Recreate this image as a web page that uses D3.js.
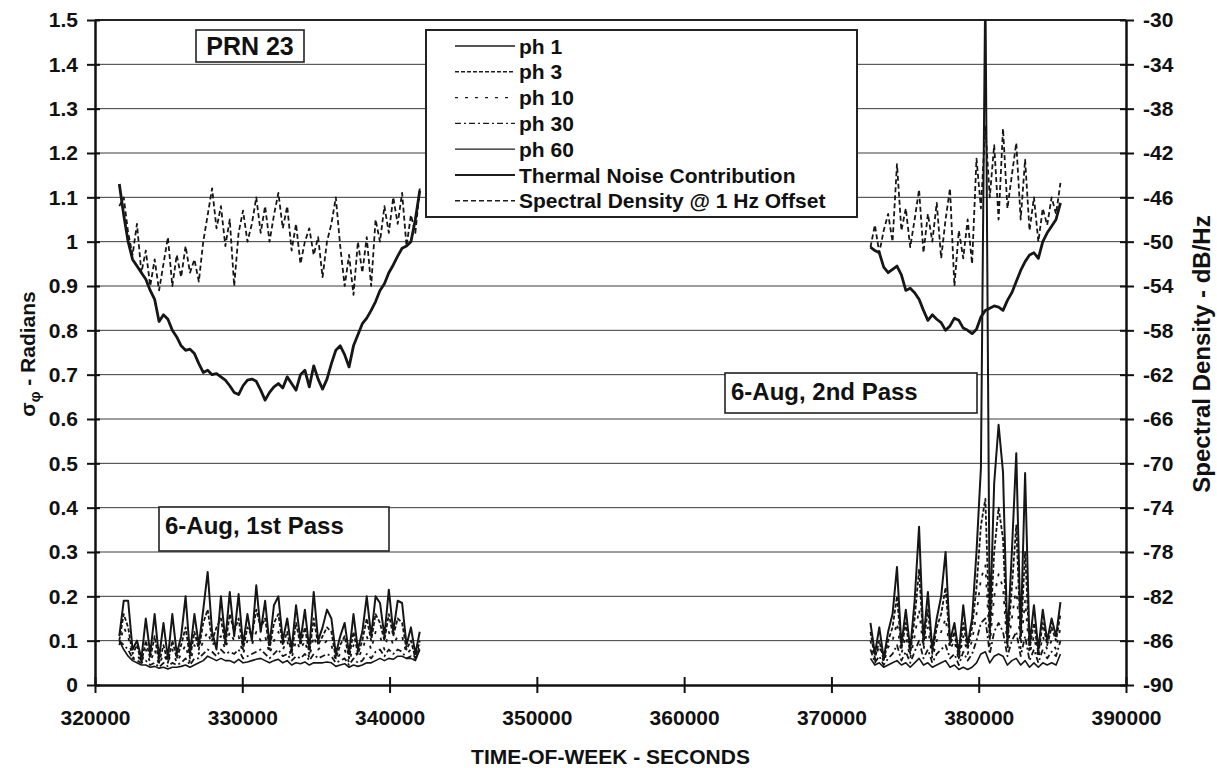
<!DOCTYPE html>
<html>
<head>
<meta charset="utf-8">
<script src="https://cdn.jsdelivr.net/npm/d3@7"></script>
<style>
  body { margin: 0; background: #fff; }
  svg { display: block; font-family: "Liberation Sans", Arial, sans-serif; font-weight: bold; }
</style>
</head>
<body>
<svg id="chart"></svg>
<script>
/// data ///
const seriesNames = ["ph 1", "ph 3", "ph 10", "ph 30", "ph 60",
  "Thermal Noise Contribution", "Spectral Density @ 1 Hz Offset"];

// sampling of the two passes (time-of-week, seconds)
const pass1Start = 321650;
const pass2Start = 372650;
const sampleStep = 300;

// sigma phi, radians (left axis) - 1st pass
const ph1Pass1 = [0.11, 0.19, 0.19, 0.08, 0.10, 0.06, 0.15, 0.07, 0.16, 0.06,
  0.14, 0.06, 0.16, 0.07, 0.11, 0.20, 0.07, 0.16, 0.09, 0.17,
  0.255, 0.12, 0.08, 0.20, 0.10, 0.21, 0.11, 0.205, 0.09, 0.16,
  0.10, 0.225, 0.12, 0.19, 0.09, 0.18, 0.20, 0.10, 0.15, 0.08,
  0.18, 0.10, 0.17, 0.08, 0.21, 0.10, 0.13, 0.17, 0.15, 0.07,
  0.11, 0.14, 0.07, 0.16, 0.08, 0.12, 0.20, 0.11, 0.20, 0.185,
  0.11, 0.215, 0.12, 0.19, 0.185, 0.09, 0.13, 0.07, 0.12];
const ph3Pass1 = [0.10, 0.16, 0.13, 0.07, 0.09, 0.05, 0.10, 0.06, 0.11, 0.05,
  0.09, 0.05, 0.10, 0.06, 0.09, 0.13, 0.06, 0.12, 0.08, 0.14,
  0.17, 0.10, 0.13, 0.15, 0.09, 0.16, 0.12, 0.15, 0.08, 0.13,
  0.11, 0.17, 0.13, 0.15, 0.08, 0.14, 0.16, 0.09, 0.12, 0.07,
  0.14, 0.09, 0.13, 0.07, 0.15, 0.09, 0.11, 0.13, 0.12, 0.06,
  0.09, 0.11, 0.06, 0.12, 0.07, 0.10, 0.15, 0.10, 0.16, 0.14,
  0.10, 0.16, 0.11, 0.15, 0.14, 0.08, 0.10, 0.06, 0.10];
const ph10Pass1 = [0.09, 0.13, 0.11, 0.06, 0.07, 0.05, 0.08, 0.05, 0.08, 0.045,
  0.07, 0.05, 0.08, 0.05, 0.07, 0.09, 0.05, 0.09, 0.07, 0.10,
  0.12, 0.09, 0.10, 0.11, 0.08, 0.12, 0.10, 0.11, 0.07, 0.10,
  0.09, 0.12, 0.10, 0.11, 0.07, 0.10, 0.12, 0.08, 0.10, 0.06,
  0.10, 0.08, 0.10, 0.06, 0.11, 0.08, 0.09, 0.10, 0.09, 0.055,
  0.07, 0.08, 0.05, 0.09, 0.06, 0.08, 0.11, 0.08, 0.12, 0.11,
  0.08, 0.12, 0.09, 0.11, 0.11, 0.07, 0.08, 0.06, 0.08];
const ph30Pass1 = [0.10, 0.09, 0.08, 0.06, 0.055, 0.05, 0.055, 0.045, 0.05, 0.04,
  0.05, 0.042, 0.05, 0.045, 0.05, 0.06, 0.045, 0.06, 0.06, 0.07,
  0.08, 0.075, 0.065, 0.08, 0.07, 0.075, 0.07, 0.08, 0.06, 0.065,
  0.07, 0.075, 0.08, 0.07, 0.06, 0.07, 0.08, 0.065, 0.07, 0.055,
  0.065, 0.06, 0.07, 0.055, 0.07, 0.06, 0.065, 0.07, 0.065, 0.05,
  0.055, 0.06, 0.045, 0.06, 0.05, 0.055, 0.07, 0.06, 0.075, 0.08,
  0.065, 0.08, 0.07, 0.08, 0.075, 0.06, 0.065, 0.055, 0.09];
const ph60Pass1 = [0.10, 0.08, 0.065, 0.055, 0.05, 0.045, 0.045, 0.04, 0.042, 0.038,
  0.04, 0.036, 0.04, 0.04, 0.042, 0.045, 0.04, 0.045, 0.05, 0.055,
  0.065, 0.06, 0.055, 0.06, 0.055, 0.055, 0.05, 0.058, 0.05, 0.052,
  0.055, 0.058, 0.06, 0.055, 0.05, 0.055, 0.058, 0.05, 0.055, 0.045,
  0.05, 0.048, 0.052, 0.045, 0.05, 0.05, 0.05, 0.052, 0.05, 0.042,
  0.045, 0.048, 0.04, 0.045, 0.042, 0.045, 0.05, 0.05, 0.055, 0.06,
  0.055, 0.06, 0.058, 0.065, 0.065, 0.06, 0.06, 0.055, 0.08];
// dB/Hz (right axis) - 1st pass
const thermalPass1 = [-44.8, -47.6, -50.0, -51.6, -52.2, -52.8, -53.4, -54.4, -55.2, -57.2,
  -56.6, -57.0, -58.0, -58.6, -59.4, -59.8, -59.7, -60.1, -61.0, -61.8,
  -61.6, -62.0, -61.9, -62.2, -62.5, -63.0, -63.6, -63.8, -63.0, -62.5,
  -62.4, -62.6, -63.4, -64.3, -63.6, -63.1, -62.8, -63.2, -62.2, -62.8,
  -63.4, -62.0, -61.6, -63.1, -61.2, -62.4, -63.3, -62.4, -61.0, -59.8,
  -59.4, -60.2, -61.3, -59.4, -58.4, -57.4, -56.9, -56.2, -55.4, -54.4,
  -53.8, -52.8, -52.1, -51.3, -50.6, -50.4, -50.0, -48.0, -45.4];
const spectralPass1 = [-46.8, -46.0, -49.2, -51.2, -48.4, -52.8, -50.8, -54.0, -51.6, -54.4,
  -52.0, -49.6, -54.0, -51.2, -53.2, -50.4, -52.8, -51.6, -53.6, -50.0,
  -47.6, -45.2, -48.8, -46.8, -50.4, -48.0, -54.0, -49.2, -47.2, -50.0,
  -48.4, -46.0, -49.2, -46.8, -50.0, -47.6, -45.6, -48.8, -46.8, -50.8,
  -48.4, -52.0, -50.0, -48.8, -51.2, -49.6, -53.2, -50.0, -48.4, -46.0,
  -50.4, -54.0, -51.2, -54.8, -50.0, -52.8, -49.6, -54.0, -48.0, -50.0,
  -46.8, -49.2, -46.0, -48.4, -45.6, -50.4, -47.6, -49.2, -45.2];

// sigma phi, radians (left axis) - 2nd pass
const ph1Pass2 = [0.14, 0.07, 0.13, 0.06, 0.12, 0.16, 0.266, 0.09, 0.17, 0.08,
  0.19, 0.357, 0.10, 0.21, 0.08, 0.15, 0.20, 0.30, 0.10, 0.14,
  0.07, 0.18, 0.09, 0.15, 0.30, 0.49, 1.60, 0.12, 0.455, 0.587,
  0.48, 0.10, 0.30, 0.523, 0.11, 0.478, 0.09, 0.18, 0.08, 0.17,
  0.10, 0.15, 0.11, 0.187];
const ph3Pass2 = [0.12, 0.06, 0.10, 0.055, 0.10, 0.13, 0.20, 0.08, 0.14, 0.07,
  0.15, 0.26, 0.09, 0.17, 0.07, 0.13, 0.16, 0.22, 0.09, 0.12,
  0.06, 0.14, 0.08, 0.13, 0.22, 0.36, 0.42, 0.10, 0.30, 0.40,
  0.33, 0.09, 0.22, 0.36, 0.10, 0.30, 0.08, 0.14, 0.07, 0.14,
  0.09, 0.13, 0.10, 0.16];
const ph10Pass2 = [0.10, 0.055, 0.09, 0.05, 0.085, 0.10, 0.14, 0.07, 0.11, 0.06,
  0.11, 0.17, 0.08, 0.13, 0.06, 0.10, 0.12, 0.15, 0.08, 0.10,
  0.055, 0.11, 0.07, 0.10, 0.16, 0.24, 0.27, 0.09, 0.20, 0.25,
  0.22, 0.08, 0.15, 0.22, 0.08, 0.19, 0.07, 0.11, 0.06, 0.11,
  0.08, 0.10, 0.08, 0.13];
const ph30Pass2 = [0.08, 0.05, 0.065, 0.045, 0.06, 0.07, 0.09, 0.055, 0.075, 0.05,
  0.075, 0.10, 0.06, 0.08, 0.05, 0.07, 0.08, 0.09, 0.06, 0.07,
  0.045, 0.075, 0.055, 0.07, 0.10, 0.14, 0.15, 0.07, 0.12, 0.14,
  0.12, 0.065, 0.10, 0.12, 0.065, 0.11, 0.055, 0.08, 0.05, 0.08,
  0.06, 0.075, 0.065, 0.10];
const ph60Pass2 = [0.06, 0.045, 0.05, 0.04, 0.045, 0.05, 0.055, 0.045, 0.05, 0.04,
  0.05, 0.06, 0.045, 0.05, 0.04, 0.045, 0.05, 0.055, 0.04, 0.045,
  0.035, 0.04, 0.035, 0.04, 0.05, 0.07, 0.075, 0.05, 0.065, 0.07,
  0.065, 0.045, 0.055, 0.06, 0.045, 0.055, 0.04, 0.05, 0.04, 0.05,
  0.045, 0.05, 0.045, 0.07];
// dB/Hz (right axis) - 2nd pass
const thermalPass2 = [-50.5, -50.8, -51.0, -52.3, -52.8, -52.5, -52.2, -53.0, -54.4, -54.2,
  -54.6, -55.2, -56.2, -57.1, -56.6, -57.0, -57.3, -58.0, -57.6, -56.9,
  -57.1, -57.8, -58.0, -58.3, -57.9, -56.8, -56.2, -56.0, -55.8, -55.9,
  -56.2, -55.3, -54.6, -53.6, -52.6, -51.8, -51.2, -51.0, -51.5, -50.0,
  -49.2, -48.6, -48.0, -46.5];
const spectralPass2 = [-50.5, -48.5, -51.0, -49.0, -47.5, -50.0, -43.0, -49.0, -47.0, -50.5,
  -48.0, -45.3, -51.0, -47.5, -50.0, -46.5, -51.5, -48.0, -45.2, -54.0,
  -49.0, -51.5, -48.0, -52.0, -42.5, -47.0, -39.6, -46.0, -41.3, -48.0,
  -39.8, -47.0, -44.0, -41.1, -48.0, -42.6, -49.0, -46.0, -50.0, -47.0,
  -48.5, -46.0, -47.5, -44.7];

/// tick labels ///
const xTicks = [320000, 330000, 340000, 350000, 360000, 370000, 380000, 390000];
const yTicks = [0, 0.1, 0.2, 0.3, 0.4, 0.5, 0.6, 0.7, 0.8, 0.9, 1, 1.1, 1.2, 1.3, 1.4, 1.5];
const yRightTicks = [-90, -86, -82, -78, -74, -70, -66, -62, -58, -54, -50, -46, -42, -38, -34, -30];

/// series table ///
const series = [
  { name: seriesNames[0], axis: "left", pass1: ph1Pass1, pass2: ph1Pass2 },
  { name: seriesNames[1], axis: "left", pass1: ph3Pass1, pass2: ph3Pass2 },
  { name: seriesNames[2], axis: "left", pass1: ph10Pass1, pass2: ph10Pass2 },
  { name: seriesNames[3], axis: "left", pass1: ph30Pass1, pass2: ph30Pass2 },
  { name: seriesNames[4], axis: "left", pass1: ph60Pass1, pass2: ph60Pass2 },
  { name: seriesNames[5], axis: "right", pass1: thermalPass1, pass2: thermalPass2 },
  { name: seriesNames[6], axis: "right", pass1: spectralPass1, pass2: spectralPass2 }
];

/// line styles ///
const styles = {
  "ph 1": { width: 2, dash: null },
  "ph 3": { width: 1.8, dash: "4,2" },
  "ph 10": { width: 1.8, dash: "3,7" },
  "ph 30": { width: 1.8, dash: "6,3,2,3" },
  "ph 60": { width: 1.6, dash: null },
  "Thermal Noise Contribution": { width: 2.8, dash: null },
  "Spectral Density @ 1 Hz Offset": { width: 1.8, dash: "5,3" }
};

/// dimensions ///
const width = 1217;
const height = 768;
const margin = { top: 20, right: 91, bottom: 83, left: 95 };

/// scales ///
const x = d3.scaleLinear()
  .domain([320000, 390000])
  .range([margin.left, width - margin.right]);
const y = d3.scaleLinear()
  .domain([0, 1.5])
  .range([height - margin.bottom, margin.top]);
const yRight = d3.scaleLinear()
  .domain([-90, -30])
  .range([height - margin.bottom, margin.top]);

const svg = d3.select("#chart")
  .attr("width", width)
  .attr("height", height);

svg.append("defs").append("clipPath")
  .attr("id", "plot-clip")
  .append("rect")
    .attr("x", margin.left)
    .attr("y", margin.top)
    .attr("width", width - margin.left - margin.right)
    .attr("height", height - margin.top - margin.bottom);

/// grid ///
svg.append("g")
  .selectAll("line")
  .data(yTicks.slice(1))
  .join("line")
    .attr("x1", margin.left)
    .attr("x2", width - margin.right)
    .attr("y1", d => y(d))
    .attr("y2", d => y(d))
    .attr("stroke", "#3a3a3a")
    .attr("stroke-width", 1);

// top border
svg.append("line")
  .attr("x1", margin.left)
  .attr("x2", width - margin.right)
  .attr("y1", margin.top)
  .attr("y2", margin.top)
  .attr("stroke", "#222")
  .attr("stroke-width", 2);

/// lines ///
const lineFor = (s, start) => d3.line()
  .x((d, i) => x(start + i * sampleStep))
  .y(d => s.axis === "left" ? y(d) : yRight(d));

const plot = svg.append("g").attr("clip-path", "url(#plot-clip)");
series.slice().reverse().forEach(s => {
  [[s.pass1, pass1Start], [s.pass2, pass2Start]].forEach(([values, start]) => {
    plot.append("path")
      .datum(values)
      .attr("fill", "none")
      .attr("stroke", "#161616")
      .attr("stroke-width", styles[s.name].width)
      .attr("stroke-dasharray", styles[s.name].dash)
      .attr("stroke-linejoin", "round")
      .attr("d", lineFor(s, start));
  });
});

/// axes ///
const styleAxis = g => {
  g.select(".domain").attr("stroke", "#111").attr("stroke-width", 2.5);
  g.selectAll(".tick line").attr("stroke", "#111").attr("stroke-width", 2);
  g.selectAll(".tick text")
    .attr("fill", "#111")
    .attr("font-size", 21)
    .attr("font-weight", "bold")
    .attr("font-family", "'Liberation Sans', Arial, sans-serif");
};

svg.append("g")
  .attr("transform", `translate(0,${height - margin.bottom})`)
  .call(d3.axisBottom(x).tickValues(xTicks).tickFormat(d3.format("d"))
    .tickSizeInner(8).tickSizeOuter(0).tickPadding(17))
  .call(g => g.selectAll(".tick line").attr("y1", -8))
  .call(styleAxis);

svg.append("g")
  .attr("transform", `translate(${margin.left},0)`)
  .call(d3.axisLeft(y).tickValues(yTicks).tickFormat(d => String(d))
    .tickSizeInner(8).tickSizeOuter(0).tickPadding(9))
  .call(g => g.selectAll(".tick line").attr("x1", 5))
  .call(styleAxis);

svg.append("g")
  .attr("transform", `translate(${width - margin.right},0)`)
  .call(d3.axisRight(yRight).tickValues(yRightTicks).tickFormat(d => String(d))
    .tickSizeInner(8).tickSizeOuter(0).tickPadding(9))
  .call(g => g.selectAll(".tick line").attr("x1", -6))
  .call(styleAxis);

/// axis titles ///
svg.append("text")
  .attr("x", (margin.left + width - margin.right) / 2)
  .attr("y", 764)
  .attr("text-anchor", "middle")
  .attr("font-size", 21)
  .attr("fill", "#111")
  .text("TIME-OF-WEEK - SECONDS");

const leftTitle = svg.append("text")
  .attr("transform", "translate(35,354) rotate(-90)")
  .attr("text-anchor", "middle")
  .attr("font-size", 21)
  .attr("fill", "#111");
leftTitle.append("tspan").text("σ");
leftTitle.append("tspan").attr("font-size", 15).attr("dy", 5).text("φ");
leftTitle.append("tspan").attr("dy", -5).text(" - Radians");

svg.append("text")
  .attr("transform", "translate(1210,354) rotate(-90)")
  .attr("text-anchor", "middle")
  .attr("font-size", 24)
  .attr("fill", "#111")
  .text("Spectral Density - dB/Hz");

/// annotation boxes ///
const labelBox = (bx, by, bw, bh, label, tx, ty, size, anchor) => {
  svg.append("rect")
    .attr("x", bx).attr("y", by).attr("width", bw).attr("height", bh)
    .attr("fill", "#fff").attr("stroke", "#222").attr("stroke-width", 1.6);
  svg.append("text")
    .attr("x", tx).attr("y", ty)
    .attr("text-anchor", anchor)
    .attr("font-size", size)
    .attr("fill", "#111")
    .text(label);
};
labelBox(196, 30, 108, 32, "PRN 23", 250, 55, 25, "middle");
labelBox(159, 507, 230, 44, "6-Aug, 1st Pass", 165, 534, 24, "start");
labelBox(725, 373, 252, 40, "6-Aug, 2nd Pass", 731, 400, 24, "start");

/// legend ///
const legend = svg.append("g");
legend.append("rect")
  .attr("x", 426).attr("y", 30).attr("width", 431).attr("height", 187)
  .attr("fill", "#fff").attr("stroke", "#222").attr("stroke-width", 2);

const rowY = i => 46 + i * 25.8;
legend.selectAll("line.sample")
  .data(series)
  .join("line")
    .attr("class", "sample")
    .attr("x1", 455).attr("x2", 515)
    .attr("y1", (d, i) => rowY(i)).attr("y2", (d, i) => rowY(i))
    .attr("stroke", "#1c1c1c")
    .attr("stroke-width", d => styles[d.name].width * 0.8)
    .attr("stroke-dasharray", d => styles[d.name].dash);
legend.selectAll("text")
  .data(series)
  .join("text")
    .attr("x", 519)
    .attr("y", (d, i) => rowY(i) + 7.5)
    .attr("font-size", 21)
    .attr("fill", "#111")
    .text(d => d.name);
</script>
</body>
</html>
